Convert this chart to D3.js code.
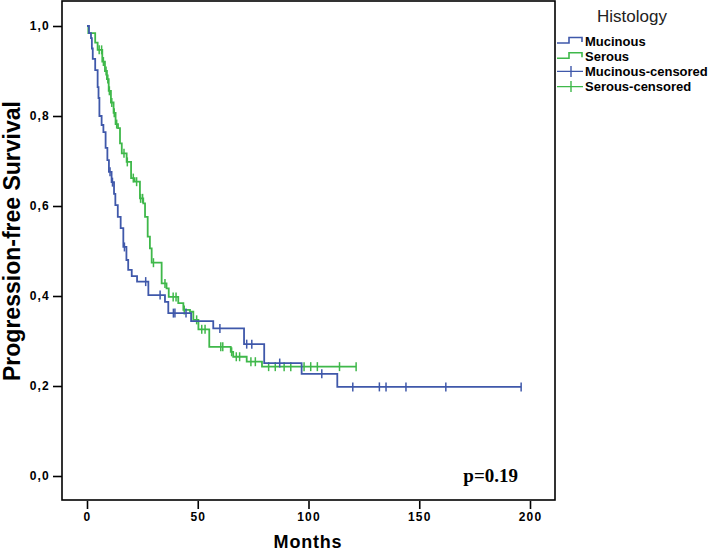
<!DOCTYPE html>
<html><head><meta charset="utf-8">
<script src="https://cdn.jsdelivr.net/npm/d3@7/dist/d3.min.js"></script>
<style>
body{margin:0;background:#fff;}
svg text{font-family:"Liberation Sans",Arial,sans-serif;}
</style></head>
<body><svg id="c" width="709" height="552"></svg>
<script>
// ---- data ----
const xTicks = [0, 50, 100, 150, 200];
const yTicks = [0, 0.2, 0.4, 0.6, 0.8, 1.0];
const seriesNames = ["Mucinous", "Serous"];
const legendLabels = ["Mucinous", "Serous", "Mucinous-censored", "Serous-censored"];

const mucTimes = [0.9, 1.8, 2.2, 2.6, 3.7, 4.8, 5.2, 5.6, 6.6, 7.4, 8.4, 9.2, 9.9, 11.1, 12.2, 12.8, 13.9, 15.2, 16.4, 17.8, 18.6, 20.2, 22.6, 27.7, 35.2, 36.7, 47.0, 57.0, 70.9, 80.0, 96.9, 113.0];
const mucSurv  = [0.984, 0.973, 0.95, 0.927, 0.902, 0.864, 0.84, 0.80, 0.78, 0.764, 0.729, 0.702, 0.676, 0.653, 0.627, 0.602, 0.576, 0.551, 0.509, 0.48, 0.458, 0.444, 0.432, 0.402, 0.387, 0.362, 0.344, 0.328, 0.293, 0.251, 0.227, 0.198];
const mucCensor = [10.4, 11.5, 16.9, 26.5, 33.0, 39.0, 39.7, 44.7, 60.0, 72.1, 74.4, 87.0, 106.0, 120.0, 132.0, 135.0, 144.0, 162.0, 196.0];

const serTimes = [0.6, 3.7, 4.8, 6.9, 8.1, 9.0, 9.8, 10.8, 12.0, 12.9, 14.0, 14.9, 15.7, 17.9, 19.9, 21.5, 23.9, 25.4, 26.2, 27.4, 28.4, 29.2, 33.7, 35.9, 36.9, 41.2, 43.5, 46.5, 48.0, 50.3, 55.2, 64.9, 66.0, 72.1, 79.0];
const serSurv  = [0.984, 0.963, 0.947, 0.921, 0.90, 0.882, 0.856, 0.83, 0.807, 0.782, 0.773, 0.739, 0.717, 0.698, 0.662, 0.654, 0.617, 0.606, 0.576, 0.532, 0.506, 0.474, 0.428, 0.417, 0.398, 0.384, 0.369, 0.365, 0.347, 0.326, 0.287, 0.276, 0.265, 0.254, 0.243];
const serCensor = [5.5, 6.6, 7.4, 8.6, 9.4, 10.1, 11.2, 12.3, 13.4, 16.7, 18.2, 20.9, 22.4, 24.2, 25.1, 30.0, 35.2, 38.9, 40.2, 43.9, 49.5, 51.8, 53.3, 60.4, 61.3, 65.3, 67.4, 68.9, 74.0, 76.0, 82.0, 85.0, 89.0, 92.0, 98.0, 101.0, 104.0, 114.0, 121.5];

const pText = "p=0.19";

// ---- drawing ----
const blue = "#3f58aa", green = "#3fb84a";
const svg = d3.select("#c");
const x = d3.scaleLinear().domain([0, 200]).range([87, 530]);
const y = d3.scaleLinear().domain([0, 1]).range([476, 26]);

// frame
svg.append("rect").attr("x", 62).attr("y", 1).attr("width", 493).attr("height", 499)
  .attr("fill", "none").attr("stroke", "#000").attr("stroke-width", 1.6);

// axes
const xa = svg.append("g").attr("transform", "translate(0,501)")
  .call(d3.axisBottom(x).tickValues(xTicks).tickSize(8).tickPadding(3).tickFormat(d3.format("d")));
const ya = svg.append("g").attr("transform", "translate(62,0)")
  .call(d3.axisLeft(y).tickValues(yTicks).tickSize(9).tickPadding(3).tickFormat(d => d.toFixed(1).replace(".", ",")));
[xa, ya].forEach(a => {
  a.select(".domain").remove();
  a.selectAll("line").attr("stroke", "#000").attr("stroke-width", 1.6);
  a.selectAll("text").attr("font-size", 12).attr("font-weight", "bold").attr("fill", "#000")
    .attr("letter-spacing", "1.2px").style("font-family", "'Liberation Sans',Arial,sans-serif");
});

function stepPoints(times, surv, endT) {
  const pts = [[0, 1]];
  let s = 1;
  times.forEach((t, i) => { pts.push([t, s]); s = surv[i]; pts.push([t, s]); });
  pts.push([endT, s]);
  return pts;
}
function survAt(times, surv, t) {
  let s = 1;
  times.forEach((tt, i) => { if (tt <= t) s = surv[i]; });
  return s;
}
const line = d3.line().x(d => x(d[0])).y(d => y(d[1]));

function drawSeries(times, surv, censor, color) {
  const endT = Math.max(d3.max(censor), d3.max(times));
  svg.append("path").attr("d", line(stepPoints(times, surv, endT)))
    .attr("fill", "none").attr("stroke", color).attr("stroke-width", 1.8);
  svg.append("g").selectAll("line").data(censor).join("line")
    .attr("x1", d => x(d)).attr("x2", d => x(d))
    .attr("y1", d => y(survAt(times, surv, d)) - 4.5)
    .attr("y2", d => y(survAt(times, surv, d)) + 4.5)
    .attr("stroke", color).attr("stroke-width", 1.5);
}
drawSeries(serTimes, serSurv, serCensor, green);
drawSeries(mucTimes, mucSurv, mucCensor, blue);

// axis titles
svg.append("text").attr("x", 308).attr("y", 548).attr("text-anchor", "middle")
  .attr("font-size", 18).attr("font-weight", "bold").attr("letter-spacing", "0.8px").text("Months");
svg.append("text").attr("transform", "translate(20,241) rotate(-90)").attr("text-anchor", "middle")
  .attr("font-size", 23).attr("font-weight", "bold").text("Progression-free Survival");

// p value
svg.append("text").attr("x", 518).attr("y", 482).attr("text-anchor", "end")
  .style("font-family", "'Liberation Serif','Times New Roman',serif")
  .attr("font-size", 19).attr("font-weight", "bold").text(pText);

// legend
svg.append("text").attr("x", 632).attr("y", 22).attr("text-anchor", "middle")
  .attr("font-size", 17).attr("fill", "#222").text("Histology");
const legColors = [blue, green, blue, green];
const lg = svg.append("g");
legendLabels.forEach((lab, i) => {
  const cy = 41 + i * 15.2;
  lg.append("text").attr("x", 585).attr("y", cy + 4.5).attr("font-size", 13)
    .attr("font-weight", "bold").attr("fill", "#000").text(lab);
  if (i < 2) {
    lg.append("path").attr("d", `M557,${cy + 2}H569V${cy - 3.5}H582V${cy + 1}`)
      .attr("fill", "none").attr("stroke", legColors[i]).attr("stroke-width", 1.6);
  } else {
    lg.append("path").attr("d", `M557,${cy}H583M571,${cy - 5.5}V${cy + 5.5}`)
      .attr("fill", "none").attr("stroke", legColors[i]).attr("stroke-width", 1.4);
  }
});
</script></body></html>
